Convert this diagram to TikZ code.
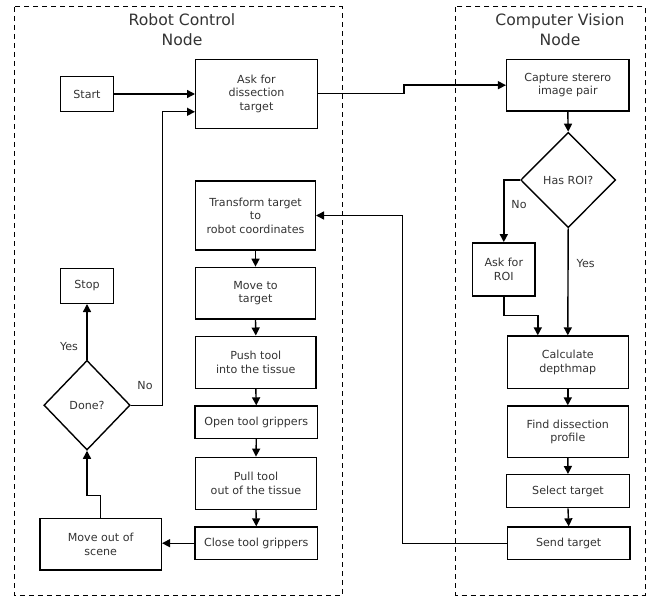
\documentclass[tikz,border=0pt]{standalone}
\usepackage{fontspec}
\setmainfont{DejaVu Sans}
\usetikzlibrary{arrows.meta,shapes.geometric,calc}
\begin{document}
\begin{tikzpicture}[x=1pt,y=-1pt,
  every node/.style={text=black!80,font=\fontsize{11.1}{13.5}\selectfont},
  box/.style={draw=black,line width=1.4pt,align=center,inner sep=0pt},
  dec/.style={draw=black,line width=1.4pt,diamond,inner sep=0pt,align=center},
  frame/.style={draw=black,line width=1pt,dash pattern=on 5pt off 4pt},
  title/.style={align=center,font=\fontsize{15.6}{20}\selectfont},
  lbl/.style={inner sep=0pt},
  conn/.style={draw=black,line width=1.4pt},
  arr/.style={conn,-{Triangle[length=8pt,width=8pt]}}]
\useasboundingbox (0,0) rectangle (659,599);
% frames
\draw[frame] (14,7) rectangle (342.5,595);
\draw[frame] (455.7,7) rectangle (645,595);
\node[title] (t1) at (182,30) {Robot Control\\Node};
\node[title] (t2) at (560,30) {Computer Vision\\Node};
% left nodes
\node[box,minimum width=52.6pt,minimum height=35pt] (start) at (87,94) {Start};
\node[box,minimum width=121.6pt,minimum height=69pt] (ask) at (256.5,93.8) {Ask for\\dissection\\target};
\node[box,minimum width=119.6pt,minimum height=69pt] (tr) at (255.5,215.5) {Transform target\\to\\robot coordinates};
\node[box,minimum width=52.6pt,minimum height=34.6pt] (stop) at (87,286) {Stop};
\node[box,minimum width=119.6pt,minimum height=51.7pt] (mv) at (255.5,293.2) {Move to\\target};
\node[box,minimum width=120.3pt,minimum height=52pt] (push) at (255.8,362.2) {Push tool\\into the tissue};
\node[box,minimum width=122.7pt,minimum height=32.3pt] (open) at (256.3,422.2) {Open tool grippers};
\node[box,minimum width=121pt,minimum height=52pt] (pull) at (256,483.3) {Pull tool\\out of the tissue};
\node[box,minimum width=122.7pt,minimum height=32.3pt] (close) at (256.3,543.2) {Close tool grippers};
\node[box,minimum width=121.3pt,minimum height=51.7pt] (mo) at (100.7,544.2) {Move out of\\scene};
\node[dec,minimum width=86.3pt,minimum height=89.7pt] (done) at (87,405.2) {Done?};
% right nodes
\node[box,minimum width=122.3pt,minimum height=51.7pt] (cap) at (567.8,85.2) {Capture sterero\\image pair};
\node[dec,minimum width=95pt,minimum height=95.3pt] (roi) at (568.2,180) {Has ROI?};
\node[box,minimum width=62.3pt,minimum height=53pt] (aroi) at (503.8,269.3) {Ask for\\ROI};
\node[box,minimum width=121pt,minimum height=52.3pt] (calc) at (567.8,362.2) {Calculate\\depthmap};
\node[box,minimum width=121pt,minimum height=51.3pt] (find) at (567.8,431.7) {Find dissection\\profile};
\node[box,minimum width=122.6pt,minimum height=33pt] (sel) at (568,491.2) {Select target};
\node[box,minimum width=122.7pt,minimum height=32.3pt] (send) at (568.7,543.2) {Send target};
% labels
\node[lbl] (y1) at (69,347) {Yes};
\node[lbl] (n1) at (145,385.7) {No};
\node[lbl] (n2) at (519,204.7) {No};
\node[lbl] (y2) at (585.7,263.3) {Yes};
% connectors
\draw[arr] (start.east) -- (start.east -| ask.west);
\draw[arr] (done.east) -- ++(31.7,0) |- ([yshift=-18pt]ask.west);
\draw[arr] (done.north) -- (stop.south);
\draw[arr] (mo.north) -- ++(0,-22) -| (done.south);
\draw[arr] (close.west) -- (close.west -| mo.east);
\draw[arr] (tr.south) -- (mv.north);
\draw[arr] (mv.south) -- (push.north);
\draw[arr] (push.south) -- (open.north);
\draw[arr] (open.south) -- (pull.north);
\draw[arr] (pull.south) -- (close.north);
\draw[arr] (ask.east) -- ++(86,0) |- (cap.west);
\draw[arr] (cap.south) -- (roi.north);
\draw[arr] (roi.west) -| (aroi.north);
\draw[arr] (aroi.south) -- ++(0,19) -| ([xshift=-30pt]calc.north);
\draw[arr] (roi.south) -- (calc.north);
\draw[arr] (calc.south) -- (find.north);
\draw[arr] (find.south) -- (sel.north);
\draw[arr] (sel.south) -- (send.north);
\draw[arr] (send.west) -- ++(-104,0) |- (tr.east);
\end{tikzpicture}
\end{document}
